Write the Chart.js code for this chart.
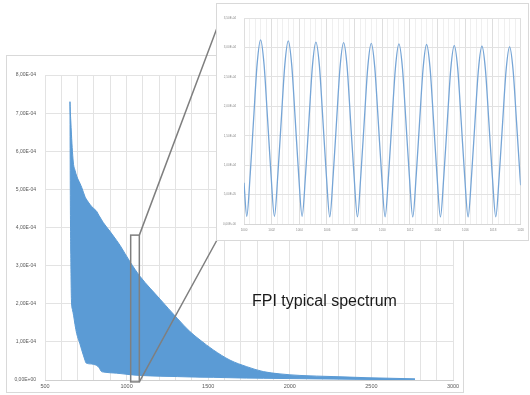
<!DOCTYPE html>
<html>
<head>
<meta charset="utf-8">
<script src="https://cdn.jsdelivr.net/npm/chart.js@4.4.1/dist/chart.umd.min.js"></script>
<style>
  html, body { margin: 0; padding: 0; background: #fff; }
  #wrap { position: relative; width: 530px; height: 395px; overflow: hidden; }
  #main { position: absolute; left: 0; top: 0; }
  #insetBox { position: absolute; left: 216px; top: 3px; width: 311px; height: 236px;
    border: 1px solid #d9d9d9; background: #fff; }
  #inset { display: block; }
  #caption { position: absolute; left: 252px; top: 293px; font: 16px "Liberation Sans", Arial, sans-serif;
    line-height: 16px; color: #1a1a1a; white-space: nowrap; }
</style>
</head>
<body>
<div id="wrap">
  <canvas id="main" width="530" height="395"></canvas>
  <div id="caption">FPI typical spectrum</div>
  <div id="insetBox"><canvas id="inset" width="311" height="236"></canvas></div>
</div>
<script>
// full spectrum: upper and lower envelope of the fringes
const spectrumX = [653, 655, 658, 662, 668, 675, 684, 694, 714, 725,
  745, 751, 786, 806, 817, 830, 847, 857, 898, 939,
  960, 1021, 1082, 1205, 1310, 1388, 1450, 1531, 1634, 1736,
  1838, 1940, 2062, 2265, 2473, 2767];
const upperEnv = [7.30e-4, 7.05e-4, 6.80e-4, 6.45e-4, 6.00e-4, 5.65e-4, 5.50e-4, 5.35e-4, 5.16e-4, 5.05e-4,
  4.81e-4, 4.76e-4, 4.55e-4, 4.47e-4, 4.42e-4, 4.32e-4, 4.20e-4, 4.13e-4, 3.90e-4, 3.66e-4,
  3.53e-4, 3.10e-4, 2.72e-4, 2.12e-4, 1.62e-4, 1.27e-4, 1.05e-4, 0.79e-4, 0.52e-4, 0.35e-4,
  0.22e-4, 0.16e-4, 0.12e-4, 0.09e-4, 0.06e-4, 0.03e-4];
const lowerEnv = [7.30e-4, 5.00e-4, 3.30e-4, 2.10e-4, 1.85e-4, 1.70e-4, 1.45e-4, 1.22e-4, 0.95e-4, 0.79e-4,
  0.52e-4, 0.45e-4, 0.42e-4, 0.40e-4, 0.38e-4, 0.33e-4, 0.22e-4, 0.21e-4, 0.19e-4, 0.18e-4,
  0.17e-4, 0.14e-4, 0.12e-4, 0.10e-4, 0.09e-4, 0.08e-4, 0.075e-4, 0.07e-4, 0.06e-4, 0.05e-4,
  0.045e-4, 0.04e-4, 0.035e-4, 0.025e-4, 0.015e-4, 0.01e-4];

// zoomed part 1000..1020
const insetX = [1000,
  1000.2, 1000.45, 1000.7, 1000.95, 1001.2, 1001.45, 1001.7, 1001.95,
  1002.2, 1002.45, 1002.7, 1002.95, 1003.2, 1003.45, 1003.7, 1003.95,
  1004.2, 1004.45, 1004.7, 1004.95, 1005.2, 1005.45, 1005.7, 1005.95,
  1006.2, 1006.45, 1006.7, 1006.95, 1007.2, 1007.45, 1007.7, 1007.95,
  1008.2, 1008.45, 1008.7, 1008.95, 1009.2, 1009.45, 1009.7, 1009.95,
  1010.2, 1010.45, 1010.7, 1010.95, 1011.2, 1011.45, 1011.7, 1011.95,
  1012.2, 1012.45, 1012.7, 1012.95, 1013.2, 1013.45, 1013.7, 1013.95,
  1014.2, 1014.45, 1014.7, 1014.95, 1015.2, 1015.45, 1015.7, 1015.95,
  1016.2, 1016.45, 1016.7, 1016.95, 1017.2, 1017.45, 1017.7, 1017.95,
  1018.2, 1018.45, 1018.7, 1018.95, 1019.2, 1019.45, 1019.7, 1019.95,
  1020];
const insetY = [0.70e-4,
  0.13e-4, 0.85e-4, 1.80e-4, 2.72e-4, 3.13e-4, 2.71e-4, 1.80e-4, 0.85e-4,
  0.13e-4, 0.85e-4, 1.79e-4, 2.70e-4, 3.11e-4, 2.70e-4, 1.79e-4, 0.84e-4,
  0.13e-4, 0.84e-4, 1.78e-4, 2.69e-4, 3.09e-4, 2.69e-4, 1.78e-4, 0.84e-4,
  0.12e-4, 0.84e-4, 1.78e-4, 2.68e-4, 3.08e-4, 2.68e-4, 1.77e-4, 0.84e-4,
  0.12e-4, 0.84e-4, 1.77e-4, 2.67e-4, 3.07e-4, 2.67e-4, 1.77e-4, 0.83e-4,
  0.12e-4, 0.83e-4, 1.77e-4, 2.66e-4, 3.06e-4, 2.66e-4, 1.76e-4, 0.83e-4,
  0.12e-4, 0.83e-4, 1.76e-4, 2.65e-4, 3.05e-4, 2.65e-4, 1.76e-4, 0.83e-4,
  0.12e-4, 0.83e-4, 1.75e-4, 2.64e-4, 3.03e-4, 2.64e-4, 1.75e-4, 0.82e-4,
  0.12e-4, 0.82e-4, 1.75e-4, 2.63e-4, 3.02e-4, 2.63e-4, 1.74e-4, 0.82e-4,
  0.12e-4, 0.82e-4, 1.74e-4, 2.62e-4, 3.01e-4, 2.62e-4, 1.74e-4, 0.82e-4,
  0.66e-4];

// box marking the zoomed region: x from, x to, y from, y to
const zoomBox = [1025, 1078, -0.05e-4, 3.8e-4];

const FONT = '"Liberation Sans", Arial, sans-serif';

// excel style "8,00E-04"
function sci(v) {
  if (Math.abs(v) < 1e-12) return '0,00E+00';
  const parts = v.toExponential(2).split('e');
  const n = parseInt(parts[1], 10);
  return parts[0].replace('.', ',') + 'E' + (n < 0 ? '-' : '+') + String(Math.abs(n)).padStart(2, '0');
}

const mainDecor = {
  id: 'mainDecor',
  beforeDraw(chart) {
    const c = chart.ctx;
    c.save();
    c.fillStyle = '#fff';
    c.fillRect(0, 0, chart.width, chart.height);
    c.strokeStyle = '#d9d9d9';
    c.lineWidth = 1;
    c.strokeRect(6.5, 55.5, 457, 337);
    c.restore();
  },
  afterDraw(chart) {
    const c = chart.ctx;
    const x = chart.scales.x, y = chart.scales.y;
    const l = x.getPixelForValue(zoomBox[0]), r = x.getPixelForValue(zoomBox[1]);
    const b = y.getPixelForValue(zoomBox[2]), t = y.getPixelForValue(zoomBox[3]);
    const box = document.getElementById('insetBox');
    c.save();
    c.strokeStyle = '#7f7f7f';
    c.lineWidth = 1.5;
    c.strokeRect(l, t, r - l, b - t);
    c.beginPath();
    c.moveTo(r, t);
    c.lineTo(box.offsetLeft + 1, box.offsetTop + 25);
    c.moveTo(r, b);
    c.lineTo(box.offsetLeft + 1, box.offsetTop + box.offsetHeight - 1);
    c.stroke();
    c.restore();
  }
};

new Chart(document.getElementById('main'), {
  type: 'line',
  data: {
    datasets: [{
      data: spectrumX.map((v, i) => ({ x: v, y: upperEnv[i] })),
      borderColor: '#5b9bd5',
      backgroundColor: '#5b9bd5',
      borderWidth: 1,
      pointRadius: 0,
      cubicInterpolationMode: 'monotone',
      fill: '+1'
    }, {
      data: spectrumX.map((v, i) => ({ x: v, y: lowerEnv[i] })),
      borderColor: '#5b9bd5',
      borderWidth: 1,
      pointRadius: 0,
      cubicInterpolationMode: 'monotone',
      fill: false
    }]
  },
  options: {
    responsive: false,
    animation: false,
    layout: { padding: { left: 6, top: 75, right: 77, bottom: 2 } },
    plugins: { legend: { display: false }, tooltip: { enabled: false } },
    scales: {
      x: {
        type: 'linear', min: 500, max: 3000,
        afterFit: s => { s.height = 13; },
        grid: { color: '#e3e3e3', drawTicks: false },
        border: { color: '#cfcfcf' },
        ticks: {
          stepSize: 100, autoSkip: false, maxRotation: 0, padding: 3,
          color: '#595959', font: { family: FONT, size: 5.5 },
          callback: v => (Math.round(v) % 500 === 0 ? String(Math.round(v)) : '')
        }
      },
      y: {
        min: 0, max: 8e-4,
        afterFit: s => { s.width = 39; },
        grid: { color: '#e3e3e3', drawTicks: false },
        border: { display: false },
        ticks: {
          stepSize: 1e-4, padding: 9,
          color: '#595959', font: { family: FONT, size: 5 },
          callback: v => sci(v)
        }
      }
    }
  },
  plugins: [mainDecor]
});

new Chart(document.getElementById('inset'), {
  type: 'line',
  data: {
    datasets: [{
      data: insetX.map((v, i) => ({ x: v, y: insetY[i] })),
      borderColor: '#76a5d6',
      borderWidth: 1.3,
      pointRadius: 0,
      cubicInterpolationMode: 'monotone',
      fill: false
    }]
  },
  options: {
    responsive: false,
    animation: false,
    layout: { padding: { left: 0, top: 14, right: 3, bottom: 0 } },
    plugins: { legend: { display: false }, tooltip: { enabled: false } },
    scales: {
      x: {
        type: 'linear', min: 1000, max: 1020,
        afterFit: s => { s.height = 16; },
        grid: {
          drawTicks: false,
          color: ctx => {
            const v = ctx.tick ? ctx.tick.value : 0;
            return Math.abs(v - Math.round(v / 2) * 2) < 1e-6 ? '#dedede' : '#efefef';
          }
        },
        border: { color: '#d6d6d6' },
        ticks: {
          stepSize: 0.4, autoSkip: false, maxRotation: 0, padding: 4,
          color: '#8a8a8a', font: { family: FONT, size: 3 },
          callback: v => {
            const r = Math.round(v);
            return (Math.abs(v - r) < 1e-6 && r % 2 === 0) ? String(r) : '';
          }
        }
      },
      y: {
        min: 0, max: 3.5e-4,
        afterFit: s => { s.width = 27; },
        grid: { color: '#e2e2e2', drawTicks: false },
        border: { display: false },
        ticks: {
          stepSize: 5e-5, padding: 8,
          color: '#8a8a8a', font: { family: FONT, size: 3 },
          callback: v => sci(v)
        }
      }
    }
  }
});
</script>
</body>
</html>
